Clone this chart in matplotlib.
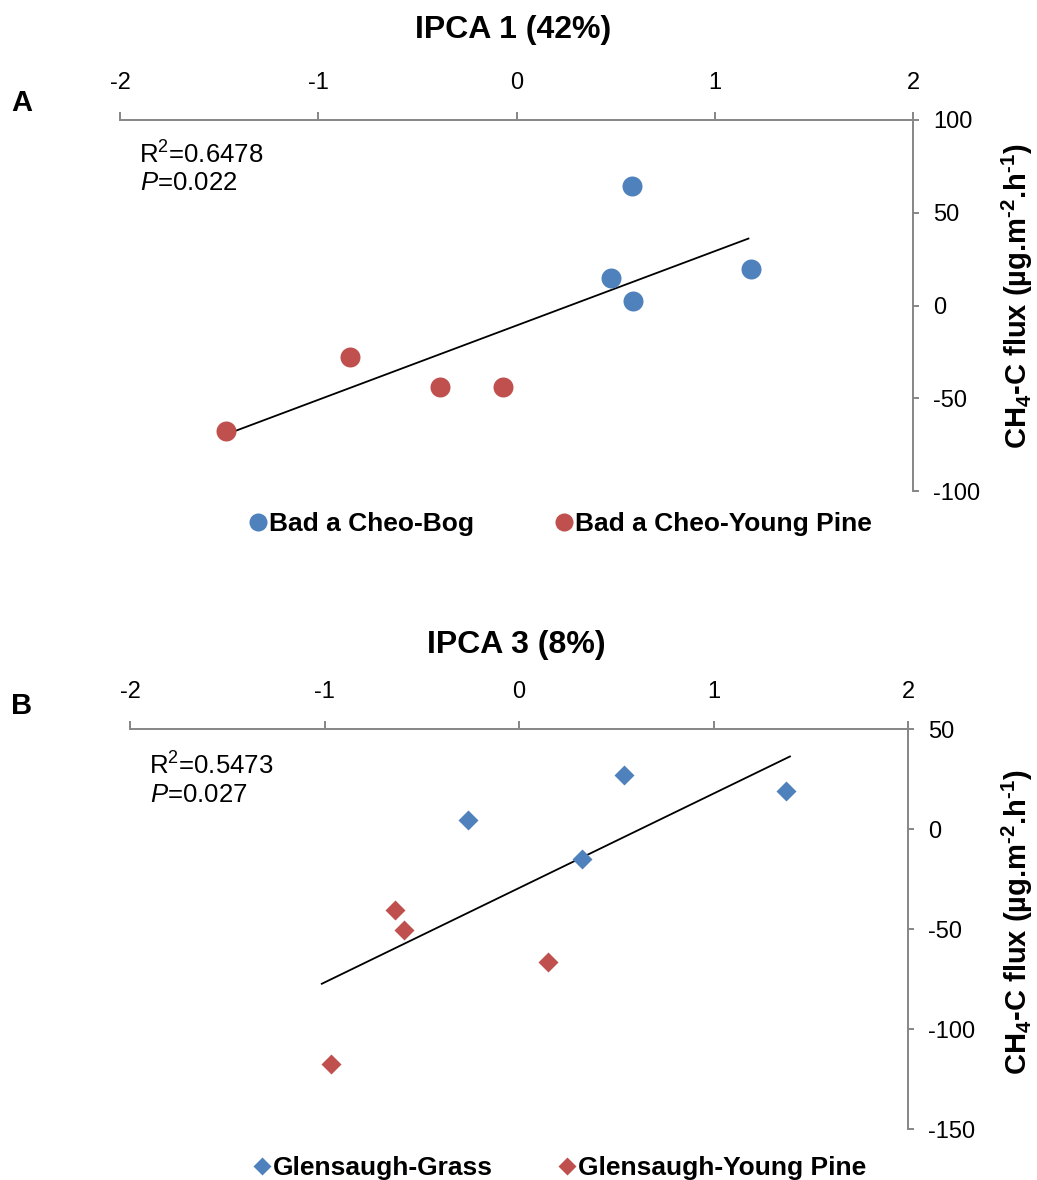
import numpy as np
import matplotlib
matplotlib.use("Agg")
import matplotlib.pyplot as plt
from matplotlib.lines import Line2D

plt.rcParams['font.family'] = ['Liberation Sans', 'DejaVu Sans']
plt.rcParams['mathtext.fontset'] = 'custom'
plt.rcParams['mathtext.rm'] = 'Liberation Sans'
plt.rcParams['mathtext.it'] = 'Liberation Sans:italic'
plt.rcParams['mathtext.bf'] = 'Liberation Sans:bold'
plt.rcParams['axes.unicode_minus'] = False

# ---- Panel A data ----
a_bog_x = [0.583, 0.477, 0.588, 1.183]
a_bog_y = [64.2, 14.6, 2.2, 19.9]
a_pine_x = [-1.465, -0.840, -0.386, -0.068]
a_pine_y = [-67.9, -28.0, -44.2, -44.2]
a_trend_range = [-1.465, 1.17]

# ---- Panel B data ----
b_grass_x = [-0.262, 0.540, 0.324, 1.373]
b_grass_y = [4.5, 27.0, -15.0, 19.0]
b_pine_x = [-0.638, -0.591, 0.149, -0.967]
b_pine_y = [-40.5, -50.5, -66.5, -117.5]
b_trend_range = [-1.014, 1.393]

x_ticks = [-2, -1, 0, 1, 2]
a_y_ticks = [-100, -50, 0, 50, 100]
b_y_ticks = [-150, -100, -50, 0, 50]

BLUE = '#4F81BD'
RED = '#C0504D'
GRAY = '#868686'

fig = plt.figure(figsize=(10.37, 11.8), dpi=100)

def style_axes(ax, yticks):
    for s in ['left', 'bottom']:
        ax.spines[s].set_visible(False)
    for s in ['top', 'right']:
        ax.spines[s].set_color(GRAY)
        ax.spines[s].set_linewidth(1.4)
    ax.set_xlim(x_ticks[0], x_ticks[-1])
    ax.set_ylim(yticks[0], yticks[-1])
    ax.set_xticks(x_ticks)
    ax.set_yticks(yticks)
    ax.xaxis.set_ticks_position('top')
    ax.yaxis.set_ticks_position('right')
    ax.tick_params(axis='x', direction='out', length=6, width=1.4, color=GRAY,
                   labelsize=17, pad=13)
    ax.tick_params(axis='y', direction='out', length=4.5, width=1.4, color=GRAY,
                   labelsize=17, pad=10)
    ax.patch.set_visible(False)

def trend(ax, xs, ys, rng):
    k, b = np.polyfit(np.array(xs), np.array(ys), 1)
    xr = np.array(rng)
    ax.plot(xr, k * xr + b, color='black', lw=1.3, zorder=2)

# Panel A
axA = fig.add_axes([120/1037, 1-491/1180, (913-120)/1037, (491-120)/1180])
style_axes(axA, a_y_ticks)
trend(axA, a_bog_x + a_pine_x, a_bog_y + a_pine_y, a_trend_range)
axA.plot(a_bog_x, a_bog_y, 'o', color=BLUE, ms=14.4, mec='none', zorder=3)
axA.plot(a_pine_x, a_pine_y, 'o', color=RED, ms=14.4, mec='none', zorder=3)

# Panel B
axB = fig.add_axes([130/1037, 1-1129/1180, (908-130)/1037, (1129-729)/1180])
style_axes(axB, b_y_ticks)
trend(axB, b_grass_x + b_pine_x, b_grass_y + b_pine_y, b_trend_range)
axB.plot(b_grass_x, b_grass_y, 'D', color=BLUE, ms=10.3, mec='none', zorder=3)
axB.plot(b_pine_x, b_pine_y, 'D', color=RED, ms=10.3, mec='none', zorder=3)

# Titles and labels
fig.text(513/1037, 1-30/1180, 'IPCA 1 (42%)', ha='center', va='center',
         fontsize=23, fontweight='bold')
fig.text(516/1037, 1-645/1180, 'IPCA 3 (8%)', ha='center', va='center',
         fontsize=23, fontweight='bold')
fig.text(22/1037, 1-103/1180, 'A', ha='center', va='center', fontsize=21, fontweight='bold')
fig.text(22/1037, 1-706/1180, 'B', ha='center', va='center', fontsize=21, fontweight='bold')

fig.text(139/1037, 1-155/1180, r'R$^{2}$=0.6478', ha='left', va='center', fontsize=18.5)
fig.text(140/1037, 1-183/1180, r'$\mathit{P}$=0.022', ha='left', va='center', fontsize=18.5)
fig.text(149/1037, 1-766/1180, r'R$^{2}$=0.5473', ha='left', va='center', fontsize=18.5)
fig.text(150/1037, 1-795/1180, r'$\mathit{P}$=0.027', ha='left', va='center', fontsize=18.5)

ylab = 'CH$_\\mathbf{4}$-C flux (µg.m$^\\mathbf{\u20102}$.h$^\\mathbf{\u20101}$)'
fig.text(1017/1037, 1-296/1180, ylab, rotation=90, ha='center', va='center',
         fontsize=21, fontweight='bold')
fig.text(1017/1037, 1-922/1180, ylab, rotation=90, ha='center', va='center',
         fontsize=21, fontweight='bold')

def legend(labels, marker, ms, center, colsp):
    handles = [Line2D([], [], ls='none', marker=marker, color=c, mec='none', ms=ms)
               for c in (BLUE, RED)]
    fig.legend(handles, labels, loc='center', bbox_to_anchor=center, ncol=2,
               frameon=False, handlelength=0.6, handletextpad=0.12,
               columnspacing=colsp, borderaxespad=0,
               prop={'weight': 'bold', 'size': 19})

legend(['Bad a Cheo-Bog', 'Bad a Cheo-Young Pine'], 'o', 13,
       (561/1037, 1-524/1180), 3.1)
legend(['Glensaugh-Grass', 'Glensaugh-Young Pine'], 'D', 9.5,
       (560/1037, 1-1168/1180), 2.5)

fig.savefig('out.png', dpi=100)
